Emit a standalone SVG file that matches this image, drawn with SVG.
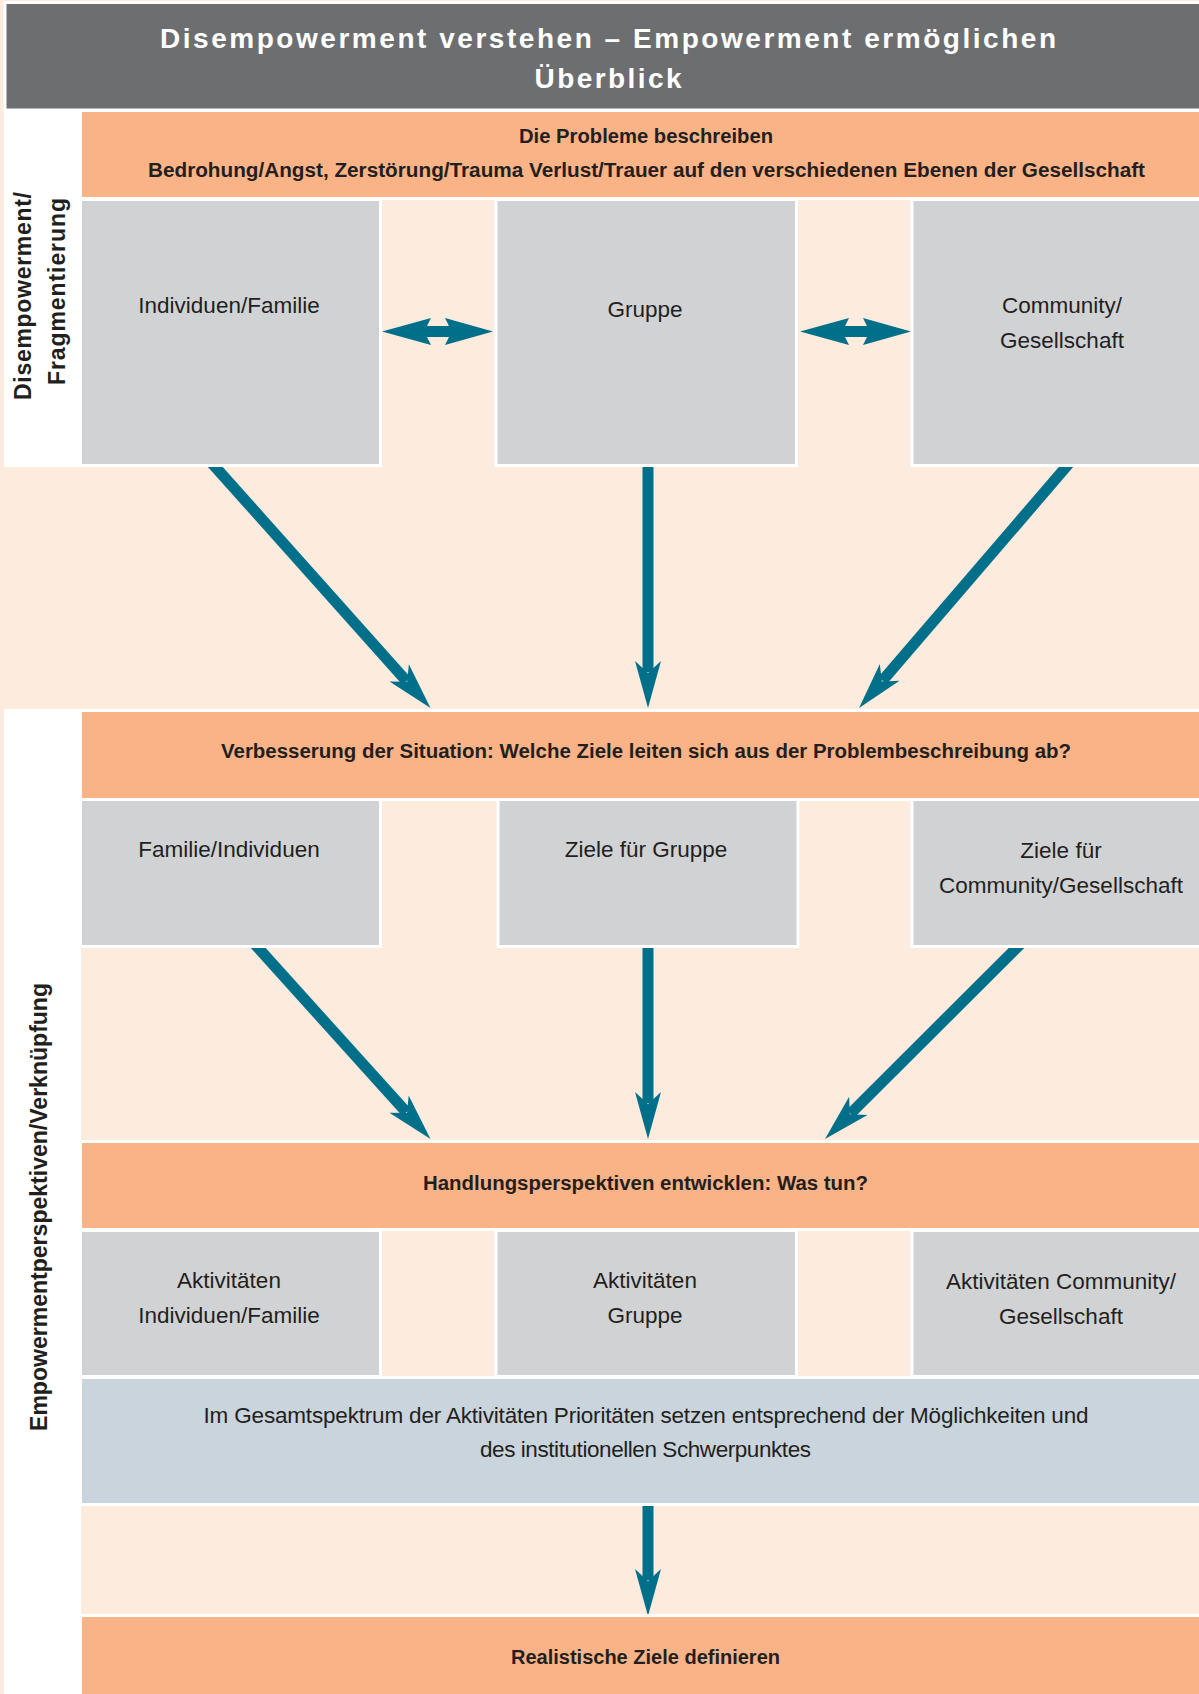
<svg xmlns="http://www.w3.org/2000/svg" width="1199" height="1694" viewBox="0 0 1199 1694">
<style>
.bg{fill:#FDEBDD}
.title{fill:#6D6E70;stroke:#fff;stroke-width:3}
.band{fill:#FAB386;stroke:#fff;stroke-width:3}
.box{fill:#D1D2D4;stroke:#fff;stroke-width:3}
.blue{fill:#C9D4DC;stroke:#fff;stroke-width:3}
.side{fill:#fff}
.t-title{font-family:"Liberation Sans",Arial,sans-serif;font-weight:bold;font-size:28px;fill:#fff;text-anchor:middle}
.t-head{font-family:"Liberation Sans Narrow","Liberation Sans",Arial,sans-serif;font-weight:bold;font-size:20px;fill:#231F20;text-anchor:middle}
.t-body{font-family:"Liberation Sans",Arial,sans-serif;font-size:22.5px;fill:#231F20;text-anchor:middle}
.t-side{font-family:"Liberation Sans",Arial,sans-serif;font-weight:bold;font-size:23px;fill:#231F20;text-anchor:middle}
.shaft{stroke:#00708A;stroke-width:11;fill:none;marker-end:url(#head)}
.dbl{fill:#00708A}
</style>
<defs>
<marker id="head" markerUnits="userSpaceOnUse" viewBox="-48 -14 50 28" markerWidth="50" markerHeight="28" refX="-36" refY="0" orient="auto" overflow="visible">
<path d="M0,0 L-47,-13 L-35,0 L-47,13 Z" fill="#00708A"/>
</marker>
</defs>

<rect class="bg" x="0" y="0" width="1199" height="1694"/>
<rect class="side" x="4" y="108" width="78" height="359"/>
<rect class="side" x="4" y="709" width="77" height="985"/>

<g id="connectors">
<line class="shaft" x1="204.6" y1="455" x2="406.5" y2="681.1"/>
<line class="shaft" x1="648" y1="455" x2="648" y2="672"/>
<line class="shaft" x1="1076.3" y1="455" x2="882.5" y2="680.7"/>
<line class="shaft" x1="246.5" y1="935" x2="406.4" y2="1112.3"/>
<line class="shaft" x1="648" y1="935" x2="648" y2="1103"/>
<line class="shaft" x1="1029.5" y1="935" x2="850.5" y2="1113.6"/>
<line class="shaft" x1="648" y1="1495" x2="648" y2="1580"/>
<path class="dbl" d="M382,331.5 L431,318 L427,326 L449,326 L445,318 L493,331.5 L445,345 L449,337 L427,337 L431,345 Z"/>
<path class="dbl" d="M800,331.5 L849,318 L845,326 L867,326 L863,318 L911,331.5 L863,345 L867,337 L845,337 L849,345 Z"/>
</g>

<g id="title">
<rect class="title" x="5" y="2.5" width="1196" height="107.5"/>
<text class="t-title" x="608" y="48" textLength="896" lengthAdjust="spacing">Disempowerment verstehen – Empowerment ermöglichen</text>
<text class="t-title" x="608" y="88" textLength="147" lengthAdjust="spacing">Überblick</text>
</g>

<g id="label-disempowerment">
<text class="t-side" transform="translate(31,296) rotate(-90)" textLength="208" lengthAdjust="spacing">Disempowerment/</text>
<text class="t-side" transform="translate(65,291.5) rotate(-90)" textLength="187" lengthAdjust="spacing">Fragmentierung</text>
</g>

<g id="label-empowerment">
<text class="t-side" transform="translate(47,1207) rotate(-90)" textLength="448" lengthAdjust="spacingAndGlyphs">Empowermentperspektiven/Verknüpfung</text>
</g>

<g id="probleme">
<rect class="band" x="80.5" y="110.5" width="1120" height="88"/>
<text class="t-head" x="646" y="143" textLength="254" lengthAdjust="spacingAndGlyphs">Die Probleme beschreiben</text>
<text class="t-head" x="646.5" y="177" textLength="997" lengthAdjust="spacingAndGlyphs">Bedrohung/Angst, Zerstörung/Trauma Verlust/Trauer auf den verschiedenen Ebenen der Gesellschaft</text>
</g>

<g id="p-individuen">
<rect class="box" x="80.5" y="199.5" width="300" height="266"/>
<text class="t-body" x="229" y="313">Individuen/Familie</text>
</g>
<g id="p-gruppe">
<rect class="box" x="496" y="199.5" width="300.5" height="266"/>
<text class="t-body" x="645" y="317">Gruppe</text>
</g>
<g id="p-community">
<rect class="box" x="912" y="199.5" width="290" height="266"/>
<text class="t-body" x="1062" y="313">Community/</text>
<text class="t-body" x="1062" y="348">Gesellschaft</text>
</g>

<g id="verbesserung">
<rect class="band" x="80.5" y="710.5" width="1120" height="89"/>
<text class="t-head" x="646" y="758" textLength="850" lengthAdjust="spacingAndGlyphs">Verbesserung der Situation: Welche Ziele leiten sich aus der Problembeschreibung ab?</text>
</g>

<g id="z-familie">
<rect class="box" x="80.5" y="799.5" width="300" height="147"/>
<text class="t-body" x="229" y="857">Familie/Individuen</text>
</g>
<g id="z-gruppe">
<rect class="box" x="498" y="799.5" width="300" height="147"/>
<text class="t-body" x="646" y="857">Ziele für Gruppe</text>
</g>
<g id="z-community">
<rect class="box" x="912" y="799.5" width="290" height="147"/>
<text class="t-body" x="1061" y="858">Ziele für</text>
<text class="t-body" x="1061" y="893">Community/Gesellschaft</text>
</g>

<g id="handlung">
<rect class="band" x="80.5" y="1141.5" width="1120" height="88"/>
<text class="t-head" x="645.5" y="1190" textLength="445" lengthAdjust="spacingAndGlyphs">Handlungsperspektiven entwicklen: Was tun?</text>
</g>

<g id="a-individuen">
<rect class="box" x="80.5" y="1230.5" width="300" height="146"/>
<text class="t-body" x="229" y="1288">Aktivitäten</text>
<text class="t-body" x="229" y="1323">Individuen/Familie</text>
</g>
<g id="a-gruppe">
<rect class="box" x="496" y="1230.5" width="300.5" height="146"/>
<text class="t-body" x="645" y="1288">Aktivitäten</text>
<text class="t-body" x="645" y="1323">Gruppe</text>
</g>
<g id="a-community">
<rect class="box" x="912" y="1230.5" width="290" height="146"/>
<text class="t-body" x="1061" y="1289">Aktivitäten Community/</text>
<text class="t-body" x="1061" y="1324">Gesellschaft</text>
</g>

<g id="prioritaeten">
<rect class="blue" x="80.5" y="1377.5" width="1120" height="127"/>
<text class="t-body" x="646" y="1423" textLength="885" lengthAdjust="spacing">Im Gesamtspektrum der Aktivitäten Prioritäten setzen entsprechend der Möglichkeiten und</text>
<text class="t-body" x="645.5" y="1457" textLength="331" lengthAdjust="spacing">des institutionellen Schwerpunktes</text>
</g>

<g id="realistisch">
<rect class="band" x="80.5" y="1615.5" width="1120" height="82"/>
<text class="t-head" x="645.5" y="1664" textLength="269" lengthAdjust="spacingAndGlyphs">Realistische Ziele definieren</text>
</g>
</svg>
